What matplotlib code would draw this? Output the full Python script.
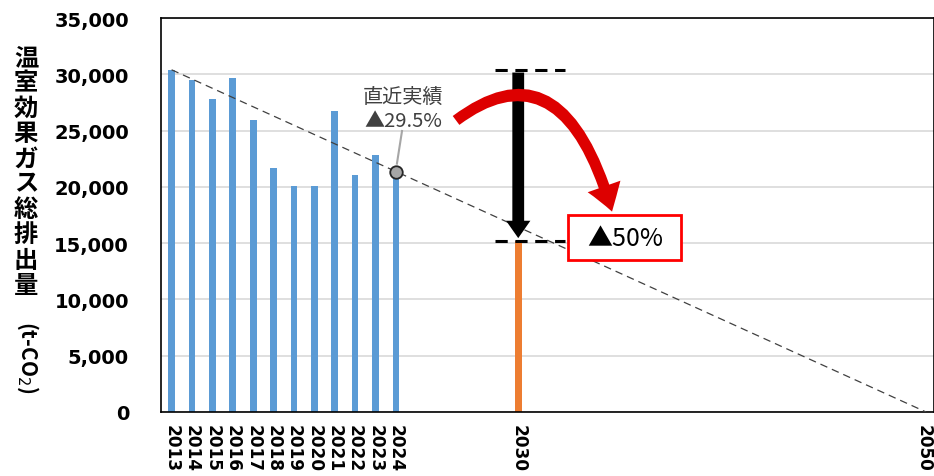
import matplotlib
matplotlib.use('Agg')
import matplotlib.pyplot as plt
import numpy as np
from matplotlib.patches import FancyArrowPatch, Rectangle
from matplotlib.path import Path
from matplotlib.transforms import ScaledTranslation

# データ
years = list(range(2013, 2051))
actual_years = [2013, 2014, 2015, 2016, 2017, 2018, 2019, 2020, 2021, 2022, 2023, 2024]
emissions = [30400, 29470, 27810, 29710, 25980, 21710, 20050, 20110, 26750, 21090, 22840, 21430]
target_year = 2030
target_value = 15200
label_years = [2013, 2014, 2015, 2016, 2017, 2018, 2019, 2020, 2021, 2022, 2023, 2024, 2030, 2050]

jp = ['Noto Sans CJK JP', 'DejaVu Sans']
plt.rcParams['font.family'] = jp

fig = plt.figure(figsize=(9.34, 4.77), dpi=100)
ax = fig.add_axes([161/934, 64/477, 773/934, 394/477])

idx = {y: i for i, y in enumerate(years)}
xa = [idx[y] for y in actual_years]

ax.bar(xa, emissions, width=0.33, color='#5B9BD5', zorder=2)
ax.bar([idx[target_year]], [target_value], width=0.33, color='#ED7D31', zorder=2)

# 2050年ゼロへの直線
base = emissions[0]
ax.plot([idx[2013], idx[2050]], [base, 0], color='#404040', lw=0.9,
        ls=(0, (6, 4)), zorder=3)

# 直近実績の点
x24 = idx[2024]
y24 = base * (1 - (2024 - 2013) / (2050 - 2013))
ax.plot([x24 + 0.05, x24 + 0.3], [y24 + 700, y24 + 3600], color='#A6A6A6', lw=1.5, zorder=4)
ax.plot([x24], [y24], 'o', ms=9, mfc='#A6A6A6', mec='#262626', mew=1.3, zorder=5)
ax.text(x24 + 0.35, 27000, '直近実績\n▲29.5%', ha='center', va='center',
        fontsize=14.5, color='#404040', linespacing=1.2, zorder=6)

# 2030目標の矢印
xt = idx[target_year]
for yv in [base, target_value]:
    ax.plot([xt - 1.15, xt + 2.3], [yv, yv], color='black', lw=2.2,
            ls=(0, (4, 2.5)), zorder=4)
arr = FancyArrowPatch((xt, base), (xt, target_value),
                      arrowstyle='simple,head_width=1.75,head_length=1.25,tail_width=0.85',
                      mutation_scale=10, color='black', lw=0, zorder=6)
ax.add_patch(arr)

# 赤い曲線矢印
curve = Path([(13.95, 25900), (19.2, 33000), (21.6, 17800)],
             [Path.MOVETO, Path.CURVE3, Path.CURVE3])
red = FancyArrowPatch(path=curve,
                      arrowstyle='simple,head_width=2.5,head_length=1.9,tail_width=0.8',
                      mutation_scale=10, color='#DD0000', lw=0, zorder=7)
ax.add_patch(red)

# ▲50% ボックス
ax.add_patch(Rectangle((19.45, 13540), 5.55, 4000, facecolor='white',
                       edgecolor='#FF0000', lw=2, zorder=8))
ax.text(22.25, 15500, '▲50%', ha='center', va='center', fontsize=18,
        color='black', zorder=9)

ax.set_xlim(-0.52, 37.39)
ax.set_ylim(0, 35000)
ax.set_yticks(np.arange(0, 35001, 5000))
ax.set_yticklabels([f'{v:,}' for v in range(0, 35001, 5000)],
                   fontsize=14, fontweight='bold', family='DejaVu Sans')
ax.set_xticks([idx[y] for y in label_years])
ax.set_xticklabels([str(y) for y in label_years], rotation=-90, fontsize=12.2,
                   fontweight='bold', family='DejaVu Sans', va='top', ha='center')
ax.tick_params(length=0)
ax.tick_params(axis='x', pad=8.5)
ax.tick_params(axis='y', pad=23)
last = ax.get_xticklabels()[-1]
last.set_transform(last.get_transform() + ScaledTranslation(-2/72, 0, fig.dpi_scale_trans))
ax.grid(axis='y', color='#D9D9D9', lw=1.2, zorder=0)
ax.set_axisbelow(True)
for s in ax.spines.values():
    s.set_color('black')
    s.set_linewidth(1.2)

# 縦書きの軸ラベル
fig.text(26/934, 1 - 172/477, '\n'.join('温室効果ガス総排出量'), ha='center', va='center',
         fontsize=17.5, fontweight='bold', linespacing=1.07)
fig.text(28/934, 1 - 357/477, '(t-CO$_2$)', rotation=-90, ha='center', va='center',
         fontsize=15, fontweight='bold')

fig.savefig('out.png', dpi=100)
